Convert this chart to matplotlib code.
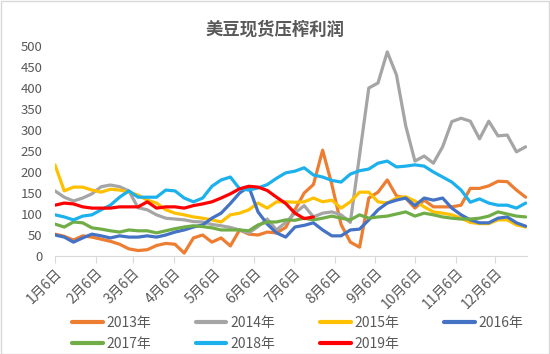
import numpy as np
import pandas as pd
import matplotlib
matplotlib.use("Agg")
import matplotlib.pyplot as plt
from matplotlib.patches import Rectangle

plt.rcParams['font.family'] = ['Noto Sans CJK SC', 'DejaVu Sans']

title = "美豆现货压榨利润"
dates = pd.date_range("2019-01-06", periods=52, freq="7D")
tick_dates = pd.to_datetime([f"2019-{m:02d}-06" for m in range(1, 13)])
tick_labels = [f"{m}月6日" for m in range(1, 13)]
yticks = [0, 50, 100, 150, 200, 250, 300, 350, 400, 450, 500]

s2013 = [52, 47, 38, 48, 45, 40, 35, 28, 17, 13, 15, 25, 30, 28, 7, 43, 50, 33, 43, 24,
         62, 52, 50, 57, 55, 68, 110, 150, 170, 252, 170, 75, 33, 21, 138, 152, 181, 143,
         138, 114, 133, 117, 117, 117, 121, 161, 161, 167, 178, 177, 157, 140]
s2014 = [155, 140, 131, 138, 148, 165, 169, 165, 155, 115, 110, 98, 90, 88, 86, 82, 81, 75,
         72, 68, 62, 55, 70, 88, 62, 80, 102, 120, 93, 102, 105, 98, 80, 240, 400, 412, 486,
         431, 310, 226, 238, 221, 260, 320, 328, 321, 279, 321, 286, 288, 248, 260]
s2015 = [217, 155, 164, 164, 157, 152, 159, 157, 152, 145, 133, 126, 110, 102, 98, 93, 90,
         86, 81, 98, 102, 110, 126, 114, 129, 129, 128, 129, 138, 129, 133, 114, 129, 152,
         152, 129, 126, 138, 141, 131, 117, 105, 102, 98, 90, 80, 77, 77, 86, 86, 74, 69]
s2016 = [50, 45, 33, 43, 52, 48, 43, 48, 45, 45, 48, 45, 50, 57, 62, 69, 74, 90, 102, 125,
         150, 165, 105, 76, 55, 45, 69, 73, 79, 62, 48, 48, 62, 64, 86, 110, 126, 133, 138,
         120, 138, 133, 138, 114, 98, 86, 79, 79, 90, 93, 79, 71]
s2017 = [76, 69, 81, 79, 67, 64, 60, 57, 62, 60, 60, 55, 60, 65, 69, 72, 70, 67, 62, 62,
         62, 60, 74, 81, 81, 86, 85, 90, 86, 90, 95, 90, 86, 98, 90, 93, 95, 100, 105, 95,
         102, 98, 93, 90, 88, 88, 90, 95, 105, 100, 95, 93]
s2018 = [98, 93, 86, 95, 98, 110, 121, 140, 155, 140, 140, 140, 157, 155, 138, 129, 138,
         166, 181, 188, 160, 157, 162, 170, 185, 198, 202, 210, 193, 188, 180, 176, 195, 203,
         207, 221, 226, 212, 214, 217, 214, 200, 188, 176, 157, 128, 136, 126, 121, 121,
         114, 126]
s2019 = [121, 126, 124, 117, 114, 114, 114, 117, 117, 117, 129, 114, 117, 117, 114, 120,
         124, 129, 138, 148, 160, 166, 164, 156, 140, 125, 102, 89, 93]

series = [("2013年", s2013, "#ED7D31"),
          ("2014年", s2014, "#A5A5A5"),
          ("2015年", s2015, "#FFC000"),
          ("2016年", s2016, "#4472C4"),
          ("2017年", s2017, "#70AD47"),
          ("2018年", s2018, "#1CB0EC"),
          ("2019年", s2019, "#FF0000")]

W, H = 550, 354
fig = plt.figure(figsize=(W / 100, H / 100), dpi=100)
fig.patch.set_facecolor("white")
fig.patches.append(Rectangle((0.5 / W, 0.5 / H), 1 - 1.5 / W, 1 - 1.5 / H,
                             transform=fig.transFigure, fill=False,
                             edgecolor="#D9D9D9", linewidth=1))

ax = fig.add_axes([55 / W, 1 - 256 / H, (527 - 55) / W, (256 - 46) / H])
for name, vals, col in series:
    ax.plot(dates[:len(vals)], vals, color=col, linewidth=2.3, label=name,
            solid_joinstyle="round", solid_capstyle="round")

ax.set_ylim(0, 500)
ax.set_yticks(yticks)
ax.set_xlim(pd.Timestamp("2019-01-06"), pd.Timestamp("2019-12-30"))
ax.set_xticks(tick_dates)
ax.set_xticklabels(tick_labels, rotation=45, ha="right", va="top",
                   rotation_mode="anchor")
for sp in ["top", "right", "left"]:
    ax.spines[sp].set_visible(False)
ax.spines["bottom"].set_color("#D9D9D9")
ax.tick_params(axis="y", length=0, pad=9, labelsize=9.5, labelcolor="#595959")
ax.tick_params(axis="x", length=5, color="#D9D9D9", labelsize=10,
               labelcolor="#595959", pad=2)

fig.text(0.5, 1 - 30 / H, title, ha="center", va="center", fontsize=12.5,
         fontweight="bold", color="#595959")

handles, labels = ax.get_legend_handles_labels()
order = [0, 4, 1, 5, 2, 6, 3]
leg = fig.legend([handles[i] for i in order], [labels[i] for i in order],
                 ncol=4, loc="upper left",
                 bbox_to_anchor=(72 / W, 1 - 316 / H), frameon=False,
                 fontsize=10, handlelength=2.2, handletextpad=0.3,
                 columnspacing=3.2, labelspacing=0.5, borderpad=0,
                 borderaxespad=0)
for t in leg.get_texts():
    t.set_color("#595959")
for l in leg.get_lines():
    l.set_linewidth(3)

fig.savefig("out.png", dpi=100)
